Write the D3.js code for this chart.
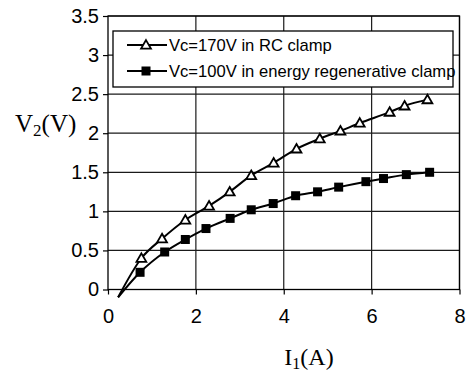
<!DOCTYPE html>
<html><head><meta charset="utf-8">
<script src="https://cdn.jsdelivr.net/npm/d3@7"></script>
<style>body{margin:0;background:#fff}svg{display:block}</style>
</head><body>
<script>
// Data
const xTicks = [0, 2, 4, 6, 8];
const yTicks = [0, 0.5, 1, 1.5, 2, 2.5, 3, 3.5];
const yTickLabels = ["0", "0.5", "1", "1.5", "2", "2.5", "3", "3.5"];
const seriesNames = ["Vc=170V in RC clamp", "Vc=100V in energy regenerative clamp"];
const rcX = [0.76, 1.23, 1.76, 2.30, 2.77, 3.26, 3.77, 4.29, 4.82, 5.29, 5.73, 6.41, 6.75, 7.27];
const rcY = [0.40, 0.65, 0.89, 1.07, 1.25, 1.46, 1.62, 1.80, 1.93, 2.03, 2.13, 2.27, 2.35, 2.43];
const erX = [0.73, 1.29, 1.76, 2.23, 2.78, 3.26, 3.76, 4.27, 4.77, 5.25, 5.87, 6.27, 6.79, 7.32];
const erY = [0.22, 0.48, 0.64, 0.78, 0.91, 1.02, 1.10, 1.20, 1.25, 1.31, 1.38, 1.42, 1.47, 1.50];
const trendStart = [0.23, -0.10];

const W = 466, H = 372;
const svg = d3.select("body").append("svg").attr("width", W).attr("height", H);
const x = d3.scaleLinear().domain([0, 8]).range([108, 459.5]);
const y = d3.scaleLinear().domain([0, 3.5]).range([289.5, 16]);

// gridlines
const g = svg.append("g");
g.selectAll(".hg").data(yTicks.slice(1)).join("line")
  .attr("x1", x(0)).attr("x2", x(8)).attr("y1", d => y(d)).attr("y2", d => y(d))
  .attr("stroke", "#1a1a1a").attr("stroke-width", 1.2);
g.selectAll(".vg").data(xTicks.slice(1)).join("line")
  .attr("y1", y(0)).attr("y2", y(3.5)).attr("x1", d => x(d)).attr("x2", d => x(d))
  .attr("stroke", "#1a1a1a").attr("stroke-width", 1.2);
// border
svg.append("rect").attr("x", x(0)).attr("y", y(3.5)).attr("width", x(8) - x(0)).attr("height", y(0) - y(3.5))
  .attr("fill", "none").attr("stroke", "#000").attr("stroke-width", 1.3);

// axes
const yAxis = svg.append("g").attr("transform", `translate(${x(0)},0)`)
  .call(d3.axisLeft(y).tickValues(yTicks).tickFormat((d, i) => yTickLabels[i]).tickSize(5).tickPadding(4));
const xAxis = svg.append("g").attr("transform", `translate(0,${y(0)})`)
  .call(d3.axisBottom(x).tickValues(xTicks).tickFormat(d3.format("d")).tickSize(5).tickPadding(14));
[yAxis, xAxis].forEach(a => {
  a.select(".domain").remove();
  a.selectAll("line").attr("stroke", "#000").attr("stroke-width", 1.2);
  a.selectAll("text").attr("font-family", "Liberation Sans, Arial, sans-serif").attr("font-size", 20).attr("fill", "#000");
});

// curves
const line = d3.line().x(d => x(d[0])).y(d => y(d[1])).curve(d3.curveMonotoneX);
const rc = rcX.map((v, i) => [v, rcY[i]]);
const er = erX.map((v, i) => [v, erY[i]]);
svg.append("path").attr("d", line([trendStart, ...rc])).attr("fill", "none").attr("stroke", "#000").attr("stroke-width", 2);
svg.append("path").attr("d", line([trendStart, ...er])).attr("fill", "none").attr("stroke", "#000").attr("stroke-width", 2);

const tri = d3.symbol().type(d3.symbolTriangle).size(42);
svg.selectAll(".tri").data(rc).join("path")
  .attr("d", tri).attr("transform", d => `translate(${x(d[0])},${y(d[1]) + 0.8})`)
  .attr("fill", "#fff").attr("stroke", "#000").attr("stroke-width", 1.8);
svg.selectAll(".sq").data(er).join("rect")
  .attr("x", d => x(d[0]) - 4.5).attr("y", d => y(d[1]) - 4.5).attr("width", 9).attr("height", 9)
  .attr("fill", "#000");

// legend
const lg = svg.append("g");
lg.append("rect").attr("x", 113).attr("y", 31).attr("width", 340).attr("height", 56)
  .attr("fill", "#fff").attr("stroke", "#000").attr("stroke-width", 1.3);
const rows = [45, 71];
rows.forEach((ry, i) => {
  lg.append("line").attr("x1", 127).attr("x2", 167).attr("y1", ry).attr("y2", ry).attr("stroke", "#000").attr("stroke-width", 2);
  if (i === 0) {
    lg.append("path").attr("d", tri).attr("transform", `translate(146,${ry + 0.8})`)
      .attr("fill", "#fff").attr("stroke", "#000").attr("stroke-width", 1.8);
  } else {
    lg.append("rect").attr("x", 141.5).attr("y", ry - 4.5).attr("width", 9).attr("height", 9).attr("fill", "#000");
  }
  lg.append("text").attr("x", 169).attr("y", ry).attr("dy", "0.36em")
    .attr("font-family", "Liberation Sans, Arial, sans-serif").attr("font-size", 16.6).attr("fill", "#000")
    .text(seriesNames[i]);
});

// axis titles
const yt = svg.append("text").attr("x", 15).attr("y", 132)
  .attr("font-family", "Liberation Serif, Times New Roman, serif").attr("font-size", 25).attr("fill", "#000");
yt.append("tspan").text("V");
yt.append("tspan").attr("font-size", 17).attr("dy", 4).text("2");
yt.append("tspan").attr("dy", -4).text("(V)");

const xt = svg.append("text").attr("x", 309).attr("y", 365).attr("text-anchor", "middle")
  .attr("font-family", "Liberation Serif, Times New Roman, serif").attr("font-size", 24).attr("fill", "#000");
xt.append("tspan").text("I");
xt.append("tspan").attr("font-size", 16).attr("dy", 4).text("1");
xt.append("tspan").attr("dy", -4).text("(A)");
</script>
</body></html>
